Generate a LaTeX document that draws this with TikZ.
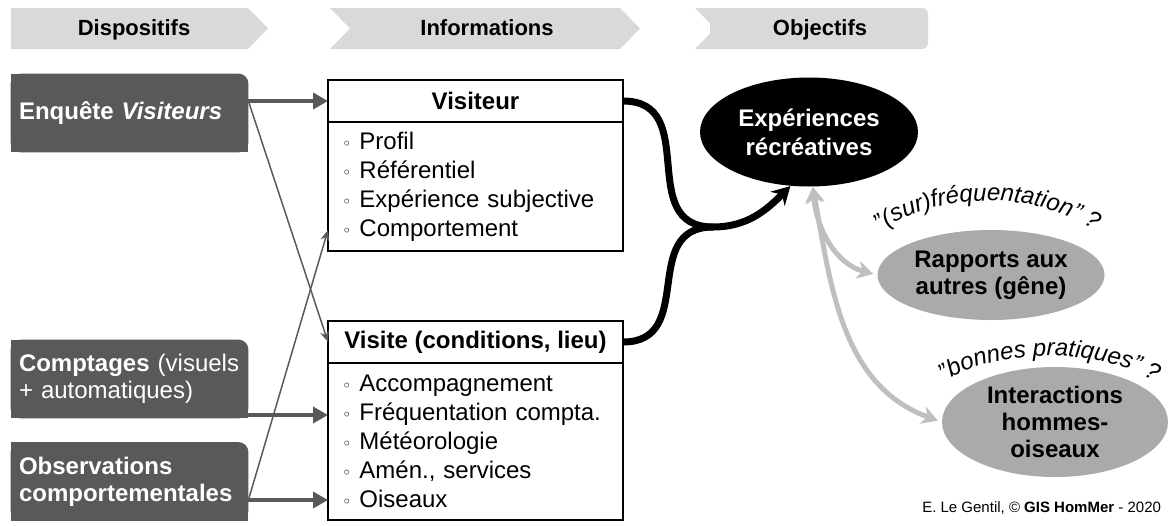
\documentclass[tikz,border=0pt]{standalone}
\usepackage{fontspec}
\setmainfont{Liberation Sans}
\newfontfamily\symfont{DejaVu Sans}
\usepackage{tikz}
\usetikzlibrary{shapes.geometric, arrows.meta, positioning, backgrounds, decorations.text}

\definecolor{darkGray}{HTML}{595959}
\definecolor{headGray}{HTML}{D9D9D9}
\definecolor{midGray}{HTML}{AAAAAA}
\definecolor{arrowGray}{HTML}{BFBFBF}

\newcommand{\puce}{{\symfont\footnotesize ◦}\ }

\begin{document}
\begin{tikzpicture}[x=0.5pt, y=0.5pt]
	\tikzstyle{bandeau} = [fill=headGray]
	\tikzstyle{titre} = [anchor=base, font=\fontsize{11}{13}\selectfont\bfseries]
	\tikzstyle{dispositif} = [rectangle, minimum width=118.5pt, minimum height=39pt, 
	inner xsep=4pt, text width=110.5pt, align=left, text=white, 
	font=\fontsize{12}{13.5}\selectfont]
	\tikzstyle{entete} = [rectangle, draw=black, line width=0.6pt, minimum width=147.5pt, 
	minimum height=21pt, outer sep=0pt, font=\fontsize{12}{14.5}\selectfont\bfseries]
	\tikzstyle{corps} = [rectangle, draw=black, line width=0.6pt, minimum width=147.5pt, 
	inner xsep=7pt, text width=133.5pt, align=left, outer sep=0pt, 
	font=\fontsize{12}{14.5}\selectfont]
	\tikzstyle{objectif} = [ellipse, fill=black, text=white, inner sep=0pt, align=center, 
	minimum width=109pt, minimum height=54.5pt, font=\fontsize{12}{14.5}\selectfont\bfseries]
	\tikzstyle{sousObjectif} = [ellipse, fill=midGray, inner sep=0pt, align=center, 
	minimum width=113.5pt, font=\fontsize{12}{13.5}\selectfont\bfseries]
	\tikzstyle{arrow} = [line width=2pt, draw=darkGray, -{Triangle[length=7.5pt,width=8pt]}]
	\tikzstyle{thinArrow} = [line width=0.75pt, draw=darkGray, -{Stealth[length=5.5pt,width=4.5pt]}]
	\tikzstyle{blackLine} = [line width=3.5pt, draw=black]
	\tikzstyle{blackArrow} = [blackLine, -{Stealth[length=9pt,width=10pt,inset=3pt]}]
	\tikzstyle{grayArrow} = [line width=2.5pt, draw=arrowGray, 
	{Stealth[length=8pt,width=9pt,inset=2.5pt]}-{Stealth[length=8pt,width=9pt,inset=2.5pt]}]

	\useasboundingbox (0,0) rectangle (1170,-525);

	% bandeaux du haut
	\fill[bandeau] (11,-8) -- (248,-8) -- (268,-28.5) -- (248,-49) -- (11,-49) -- cycle;
	\fill[bandeau] (330,-8) -- (620,-8) -- (640,-28.5) -- (620,-49) -- (330,-49) -- (350,-28.5) -- cycle;
	\fill[bandeau, rounded corners=3pt] (710,-8) rectangle (928,-49);
	\fill[bandeau] (695,-8) -- (720,-8) -- (720,-49) -- (695,-49) -- (715,-28.5) -- cycle;
	\node (dispositifs) [titre] at (134,-35) {Dispositifs};
	\node (informations) [titre] at (487,-35) {Informations};
	\node (objectifs) [titre] at (820,-35) {Objectifs};

	% dispositifs
	\node (enquete) [dispositif] at (129.5,-113) {\textbf{Enquête \textit{Visiteurs}}};
	\node (comptages) [dispositif] at (129.5,-379) {\textbf{Comptages} (visuels\\+ automatiques)};
	\node (observations) [dispositif] at (129.5,-481.5) {\textbf{Observations}\\\textbf{comportementales}};
	\begin{scope}[on background layer]
		\foreach \boite in {enquete, comptages, observations} {
			\fill[darkGray, rounded corners=5pt] (\boite.south west) rectangle (\boite.north east);
			\fill[darkGray] (\boite.south west) rectangle ([xshift=-6pt]\boite.north east);
			\fill[darkGray] (\boite.south west) rectangle ([yshift=-6pt]\boite.north east);
		}
	\end{scope}

	% informations
	\node (visiteur) [entete] at (475.5,-101) {Visiteur};
	\node (visiteurCorps) [corps, below=0pt of visiteur, minimum height=64.5pt] 
	{\puce Profil\\\puce Référentiel\\\puce Expérience subjective\\\puce Comportement};
	\node (visite) [entete] at (475.5,-342) {Visite (conditions, lieu)};
	\node (visiteCorps) [corps, below=0pt of visite, minimum height=78.5pt] 
	{\puce Accompagnement\\\puce Fréquentation compta.\\\puce Météorologie\\\puce Amén., services\\\puce Oiseaux};
	\coordinate (comportement) at (328,-230);
	\coordinate (frequentation) at (328,-415);
	\coordinate (oiseaux) at (328,-500);

	% objectifs
	\node (recreation) [objectif] at (809,-132) {Expériences\\récréatives};
	\node (rapports) [sousObjectif, minimum height=45pt] at (991,-275) {Rapports aux\\autres (gêne)};
	\node (interactions) [sousObjectif, minimum height=55pt, minimum width=113pt] at (1055,-422) {Interactions\\hommes-\\oiseaux};
	\coordinate (jonction) at (713,-227);

	\path [decorate, decoration={text along path, text align=center, 
	text={|\fontsize{12}{12}\selectfont\itshape|"(sur)fréquentation" ?}}] 
	(864,-246) .. controls (922,-186) and (1050,-186) .. (1112,-244);
	\path [decorate, decoration={text along path, text align=center, 
	text={|\fontsize{12}{12}\selectfont\itshape|"bonnes pratiques" ?}}] 
	(938,-386) .. controls (992,-346) and (1104,-346) .. (1162,-386);

	\node (credit) [anchor=base east, font=\fontsize{7.5}{9}\selectfont] at (1168,-512) 
	{E. Le Gentil, © \textbf{GIS HomMer} - 2020};

	% liens
	\draw [arrow] (enquete.east |- visiteur) -- (visiteur);
	\draw [thinArrow] (enquete.east |- visiteur) -- (visite.west);
	\draw [arrow] (comptages.east |- frequentation) -- (frequentation);
	\draw [arrow] (observations.east |- oiseaux) -- (oiseaux);
	\draw [thinArrow] (observations.east |- oiseaux) -- (comportement);
	\draw [blackArrow] (visiteur.east) to[out=0, in=180, looseness=1.3] (jonction) 
	to[out=0, in=-135] (recreation.-109);
	\draw [blackLine] (visite.east) to[out=0, in=180, looseness=1.3] (jonction);
	\draw [grayArrow, shorten >=2pt] (recreation.-86) to[out=-85, in=165] (rapports.west);
	\draw [grayArrow, shorten >=2pt] (recreation.-86) to[out=-80, in=160] (interactions.west);
\end{tikzpicture}
\end{document}
